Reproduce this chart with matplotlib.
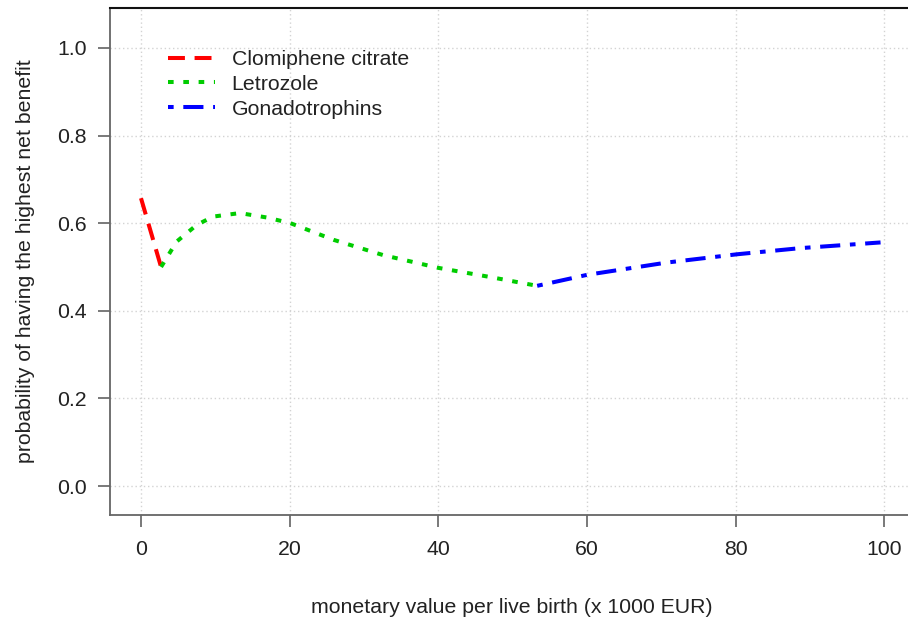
import matplotlib
matplotlib.use("Agg")
import matplotlib.pyplot as plt

plt.rcParams['font.family'] = ['Liberation Sans', 'DejaVu Sans']

# values
clomiphene_x = [0, 2.7]
clomiphene_y = [0.657, 0.50]

letrozole_x = [2.7, 4.8, 7.5, 9.7, 13.3, 16.9, 20.1, 25.9, 32.6, 40.0, 47.0, 53.3]
letrozole_y = [0.500, 0.558, 0.596, 0.615, 0.623, 0.613, 0.600, 0.562, 0.527, 0.498, 0.477, 0.457]

gonado_x = [53.3, 60.0, 70.7, 80.2, 88.7, 99.5]
gonado_y = [0.457, 0.482, 0.510, 0.529, 0.543, 0.556]

x_ticks = [0, 20, 40, 60, 80, 100]
y_ticks = [0.0, 0.2, 0.4, 0.6, 0.8, 1.0]

fs = 15.3
txt = '#222222'

fig = plt.figure(figsize=(9.08, 6.17), dpi=100)
ax = fig.add_axes([110 / 908, 102 / 617, 804 / 908, 507 / 617])

lw = 2.9
ax.plot(clomiphene_x, clomiphene_y, color='#ff0000', lw=lw, dashes=(4.2, 2.4), label='Clomiphene citrate')
ax.plot(letrozole_x, letrozole_y, color='#00cc00', lw=lw, dashes=(1.4, 2.4), label='Letrozole')
ax.plot(gonado_x, gonado_y, color='#0000ff', lw=lw, dashes=(1.4, 2.4, 5, 2.4), label='Gonadotrophins')

ax.set_xlim(-4.17, 104)
ax.set_ylim(-0.066, 1.091)
ax.set_xticks(x_ticks)
ax.set_yticks(y_ticks)
ax.set_xticklabels([str(v) for v in x_ticks])
ax.set_yticklabels(['%.1f' % v for v in y_ticks])
ax.grid(True, color='#d3d3d3', linestyle=(0, (1, 2)), lw=1)
ax.set_axisbelow(True)

for s in ['left', 'bottom']:
    ax.spines[s].set_color('#666666')
    ax.spines[s].set_linewidth(1.3)
ax.spines['top'].set_color('#111111')
ax.spines['top'].set_linewidth(1.5)
ax.spines['right'].set_visible(False)

ax.tick_params(axis='both', length=8.5, width=1.1, color='#555555', labelsize=fs,
               labelcolor=txt, pad=8.5)
ax.tick_params(axis='x', pad=9.5)

ax.set_xlabel('monetary value per live birth (x 1000 EUR)', fontsize=fs, color=txt, labelpad=28)
ax.set_ylabel('probability of having the highest net benefit', fontsize=fs, color=txt, labelpad=16)

leg = ax.legend(loc='upper left', bbox_to_anchor=(0.0721, 0.917), frameon=False, fontsize=fs,
                handlelength=2.2, handletextpad=0.8, labelspacing=0.27, borderpad=0,
                borderaxespad=0)
for t in leg.get_texts():
    t.set_color(txt)

fig.savefig('out.png', dpi=100)
